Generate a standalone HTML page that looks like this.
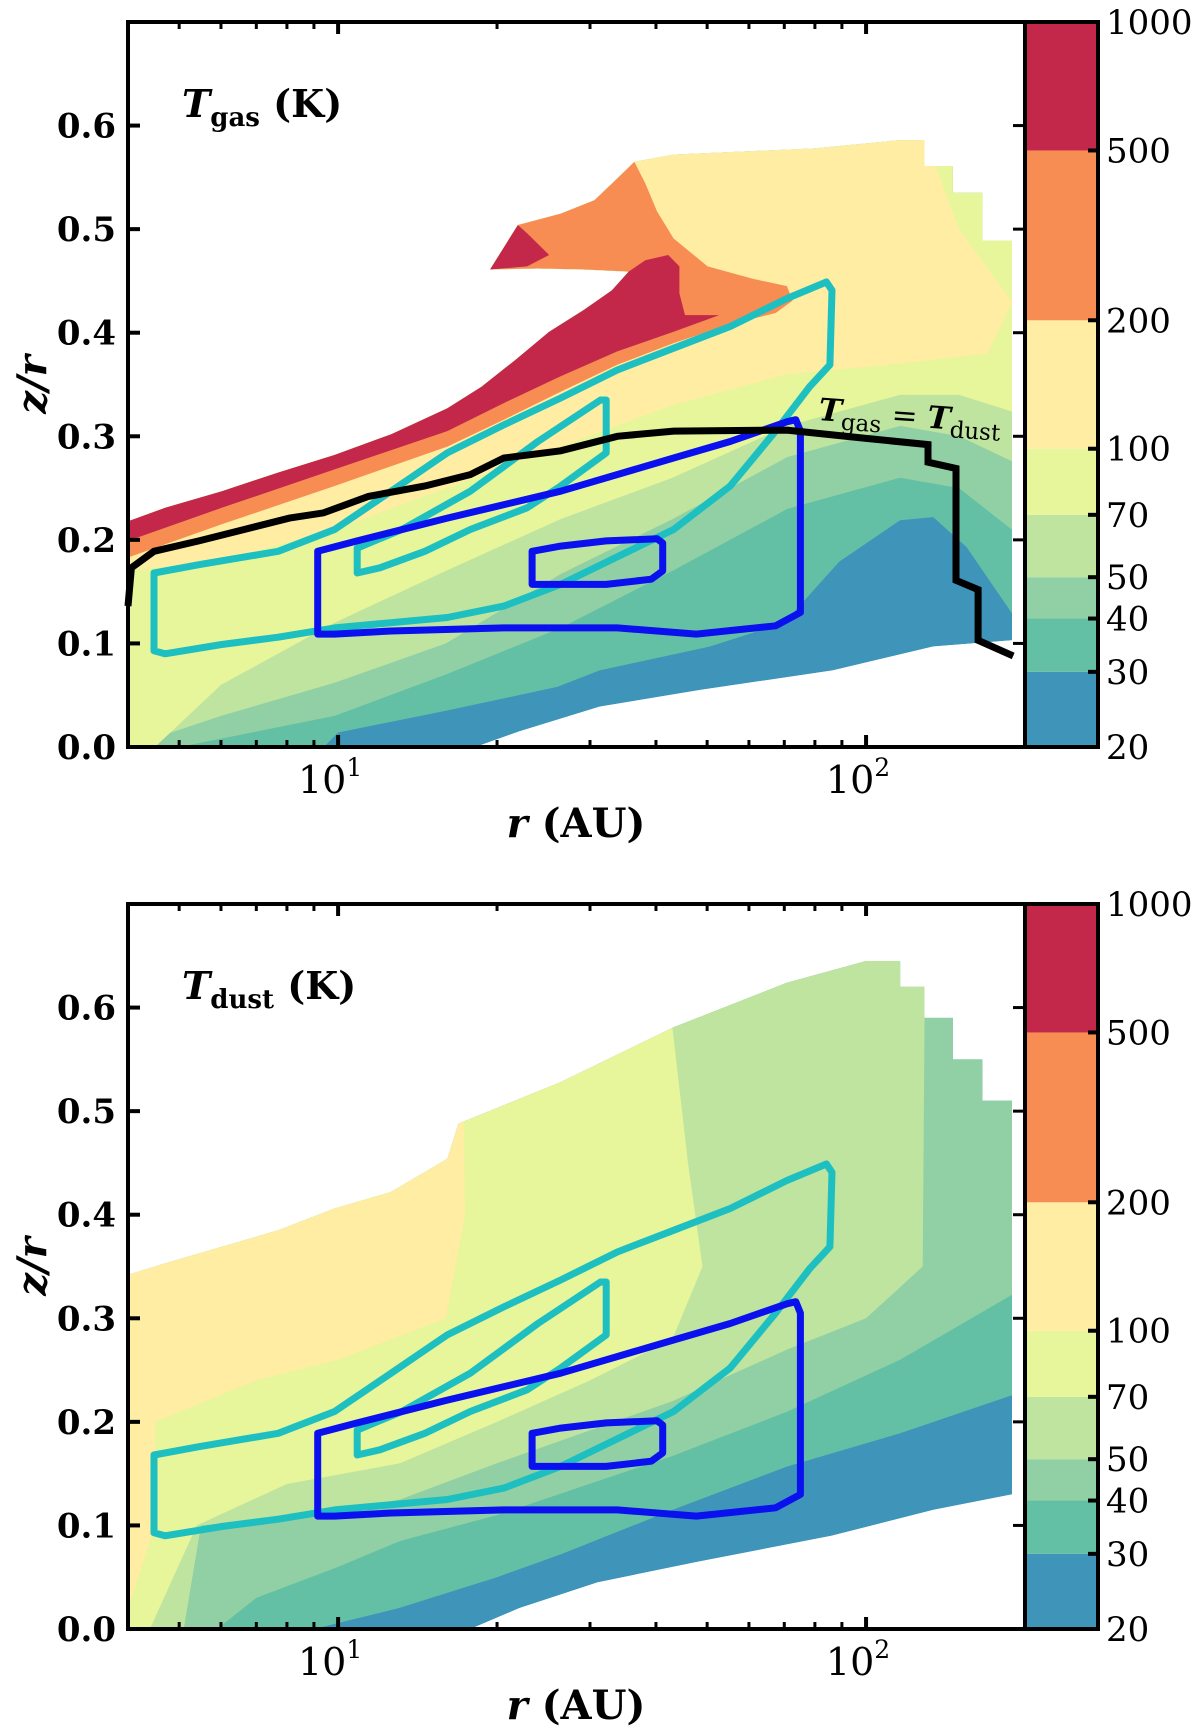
<!DOCTYPE html>
<html><head><meta charset="utf-8"><style>
html,body{margin:0;padding:0;background:#fff;}
svg{display:block;}
text{font-family:"DejaVu Serif","Liberation Serif",serif;fill:#000;}
</style></head>
<body>
<svg id="fig" width="1200" height="1736" viewBox="0 0 1200 1736" xmlns="http://www.w3.org/2000/svg"></svg>
<script>
// ---------- data ----------
const levels = [20,30,40,50,70,100,200,500,1000];
const levelColors = ["#3e94b9","#64c0a5","#90d0a4","#bee4a0","#e7f59b","#feeda2","#f78d52","#c3284a"];
const yTicks = [0.0,0.1,0.2,0.3,0.4,0.5,0.6];
const xMajor = [10,100];
const xMinor = [5,6,7,8,9,20,30,40,50,60,70,80,90];
const cbTicks = [20,30,40,50,70,100,200,500,1000];

// top panel (T_gas)
const gasDomain = [[4,0],[4,0.218],[4.7,0.231],[6.02,0.247],[7.7,0.265],[9.85,0.282],[12.6,0.302],[16.1,0.327],[18.7,0.348],[21.7,0.374],[25.1,0.401],[29.2,0.422],[33,0.441],[35.5,0.459],[29.2,0.461],[23.9,0.462],[19.4,0.461],[21.9,0.504],[26.4,0.515],[30.6,0.528],[33.8,0.549],[36.4,0.565],[43.2,0.572],[80,0.578],[116,0.586],[129,0.586],[129,0.561],[146,0.561],[146,0.535],[166,0.535],[166,0.489],[189,0.489],[189,0.103],[134,0.097],[86.5,0.074],[48.4,0.055],[31.3,0.039],[22,0.015],[18.2,0]];
const gas30 = [[4,0],[9.4,0],[10,0.014],[16,0.035],[26,0.058],[31.3,0.074],[50.6,0.097],[70,0.12],[89,0.179],[116,0.219],[134,0.222],[155,0.193],[189,0.129],[200,0.12],[200,0.8],[4,0.8]];
const gas40 = [[4,0],[5,0],[9.85,0.03],[16,0.07],[26.4,0.115],[43,0.17],[71,0.23],[116,0.26],[150,0.25],[200,0.2],[200,0.8],[4,0.8]];
const gas50 = [[4,0],[6,0.03],[9.85,0.062],[16,0.1],[26.4,0.167],[43,0.22],[71,0.28],[116,0.31],[150,0.3],[200,0.27],[200,0.8],[4,0.8]];
const gas70 = [[4,0],[4.5,0],[6,0.06],[9.85,0.12],[16,0.17],[26.4,0.22],[43,0.26],[71,0.31],[116,0.34],[150,0.34],[200,0.32],[200,0.8],[4,0.8]];
const gas100 = [[4,0.17],[6,0.18],[9.85,0.21],[16,0.25],[26.4,0.29],[43,0.33],[71,0.36],[116,0.37],[170,0.38],[189,0.43],[150,0.5],[129,0.59],[129,0.8],[4,0.8]];
const gas200 = [[4,0.183],[4,0.218],[4.7,0.231],[6.02,0.247],[7.7,0.265],[9.85,0.282],[12.6,0.302],[16.1,0.327],[18.7,0.348],[21.7,0.374],[25.1,0.401],[29.2,0.422],[33,0.441],[35.5,0.459],[29.2,0.461],[23.9,0.462],[19.4,0.461],[21.9,0.504],[26.4,0.515],[30.6,0.528],[33.8,0.549],[36.4,0.565],[38.2,0.544],[40.2,0.517],[43.2,0.491],[50.1,0.464],[61.1,0.452],[70.8,0.445],[72.6,0.431],[67.4,0.419],[55.3,0.408],[43.2,0.39],[33.8,0.369],[26.4,0.343],[20.6,0.316],[16.1,0.29],[9.85,0.252],[6.02,0.215]];
const gas500 = [[4,0.218],[4.7,0.231],[6.02,0.247],[7.7,0.265],[9.85,0.282],[12.6,0.302],[16.1,0.327],[18.7,0.348],[21.7,0.374],[25.1,0.401],[29.2,0.422],[33,0.441],[35.5,0.459],[38.2,0.47],[42.2,0.475],[44.3,0.464],[44.3,0.438],[45.4,0.417],[52.7,0.417],[43.2,0.401],[33.8,0.382],[26.4,0.358],[20.6,0.332],[16.1,0.305],[9.85,0.268],[6.02,0.231],[4,0.199]];
const gas500hook = [[19.4,0.461],[21.9,0.504],[22.8,0.496],[25.1,0.475],[22.8,0.464]];
const eqLine = [[4,0.136],[4.06,0.173],[4.48,0.189],[5.45,0.199],[6.64,0.21],[8.09,0.221],[9.38,0.226],[11.42,0.242],[14.6,0.252],[17.8,0.263],[20.6,0.279],[26.4,0.286],[33.8,0.3],[43.2,0.305],[70.8,0.306],[100,0.298],[131,0.292],[131,0.275],[148,0.269],[148,0.161],[163,0.152],[163,0.103],[190,0.088]];

// bottom panel (T_dust)
const dustDomain = [[4,0],[4,0.342],[4.7,0.353],[6.02,0.369],[7.7,0.385],[9.85,0.406],[12.6,0.422],[16.1,0.454],[16.9,0.488],[26.4,0.528],[43.2,0.581],[70.8,0.624],[100,0.645],[116,0.645],[116,0.62],[129,0.62],[129,0.59],[146,0.59],[146,0.55],[166,0.55],[166,0.51],[189,0.51],[189,0.13],[134,0.115],[86,0.09],[48,0.065],[31,0.045],[22,0.02],[17.8,0]];
const dust30 = [[4,0],[9,0],[13,0.02],[20,0.05],[26.4,0.072],[43,0.115],[71,0.157],[116,0.189],[200,0.23],[200,0.8],[4,0.8]];
const dust40 = [[4,0],[5.9,0],[7,0.03],[10,0.06],[13.1,0.085],[20,0.11],[43,0.167],[71,0.21],[116,0.26],[200,0.33],[200,0.8],[4,0.8]];
const dust50 = [[4,0],[5.1,0],[5.5,0.1],[9,0.11],[13.1,0.125],[20,0.16],[43,0.22],[71,0.27],[100,0.3],[128,0.35],[130,0.8],[4,0.8]];
const dust70 = [[4,0],[4.4,0],[5.4,0.1],[8,0.14],[13.1,0.16],[20,0.2],[30,0.24],[43,0.28],[49,0.35],[46,0.45],[43,0.58],[43,0.8],[4,0.8]];
const dust100 = [[4,0.02],[4.5,0.1],[4.5,0.2],[7,0.24],[10,0.26],[16,0.3],[17.4,0.4],[17,0.8],[4,0.8]];

// shared contours
const cyanOuter = [[4.48,0.093],[4.48,0.168],[5.45,0.176],[7.7,0.189],[9.85,0.21],[12.6,0.247],[16.1,0.284],[20.6,0.311],[26.4,0.337],[33.8,0.364],[43.2,0.385],[55.3,0.406],[70.8,0.433],[84.1,0.449],[86.2,0.441],[85.4,0.369],[78.2,0.348],[67.4,0.305],[55.3,0.252],[43.2,0.21],[35.5,0.189],[26.4,0.157],[20.6,0.136],[16.1,0.125],[9.85,0.115],[7.7,0.106],[6.02,0.099],[4.7,0.09]];
const cyanInner = [[10.87,0.168],[10.87,0.192],[13.2,0.21],[17.8,0.247],[23.9,0.295],[31.4,0.335],[32.2,0.335],[32.2,0.284],[26.4,0.252],[22.8,0.231],[17.8,0.21],[14.6,0.189],[12,0.173]];
const blueOuter = [[9.15,0.109],[9.15,0.189],[10.87,0.199],[16.1,0.221],[26.4,0.247],[43.2,0.279],[55.3,0.295],[70.8,0.314],[73.6,0.316],[75.1,0.305],[75.1,0.13],[67.4,0.117],[47.7,0.109],[33.8,0.115],[20.6,0.115],[12.6,0.112],[9.85,0.109]];
const blueInner = [[23.3,0.157],[23.3,0.189],[26.4,0.194],[32.2,0.199],[40.2,0.201],[41.2,0.197],[41.2,0.17],[39.2,0.162],[32.2,0.157],[26.4,0.157]];

// ---------- layout ----------
const NS = "http://www.w3.org/2000/svg";
const svg = document.getElementById("fig");
const PL = 128, PR = 1025, CB0 = 1025, CB1 = 1098;
const panels = [{top:22,bottom:747,id:"gas"},{top:904,bottom:1629,id:"dust"}];
const LRMIN = Math.log10(4), LRMAX = Math.log10(200);
function X(r){ return PL + (Math.log10(r)-LRMIN)/(LRMAX-LRMIN)*(PR-PL); }
function Yf(p){ return z => p.bottom - z/0.7*(p.bottom-p.top); }
function CBY(p){ return t => p.bottom - Math.log10(t/20)/Math.log10(50)*(p.bottom-p.top); }

function el(tag, attrs, parent){
  const e = document.createElementNS(NS, tag);
  for (const k in attrs) e.setAttribute(k, attrs[k]);
  (parent||svg).appendChild(e);
  return e;
}
function ptsStr(arr, Y){ return arr.map(d => X(d[0]).toFixed(1)+","+Y(d[1]).toFixed(1)).join(" "); }

function drawPanel(p, idx){
  const Y = Yf(p);
  const g = el("g", {});
  
  
  const clipId = "clip-"+p.id;
  const defs = el("defs", {}, g);
  const cp = el("clipPath", {id:clipId}, defs);
  const dom = p.id==="gas" ? gasDomain : dustDomain;
  el("polygon", {points: ptsStr(dom, Y)}, cp);
  const field = el("g", {"clip-path":"url(#"+clipId+")"}, g);
  
  
  const base = el("polygon", {points: ptsStr(dom, Y), fill: levelColors[0]}, field);
  
  
  const bands = p.id==="gas"
    ? [[gas30,1],[gas40,2],[gas50,3],[gas70,4],[gas100,5],[gas200,6],[gas500,7],[gas500hook,7]]
    : [[dust30,1],[dust40,2],[dust50,3],[dust70,4],[dust100,5]];
  bands.forEach(b => {
    const poly = el("polygon", {points: ptsStr(b[0], Y), fill: levelColors[b[1]]}, field);
    
    
  });
  const lines = [[cyanOuter,"#1ebfc0","cyan-outer-contour"],[cyanInner,"#1ebfc0","cyan-inner-contour"],[blueOuter,"#0a10ee","blue-outer-contour"],[blueInner,"#0a10ee","blue-inner-contour"]];
  lines.forEach(l => {
    const pg = el("polygon", {points: ptsStr(l[0], Y), fill:"none", stroke:l[1], "stroke-width":7, "stroke-linejoin":"round"}, g);
    
    
  });
  if (p.id==="gas"){
    const bl = el("polyline", {points: ptsStr(eqLine, Y), fill:"none", stroke:"#000", "stroke-width":7, "stroke-linejoin":"miter"}, g);
    
    
    const lab = el("text", {x:818, y:420, "font-size":31, transform:"rotate(4 818 420)"}, g);
    
    
    lab.innerHTML = '<tspan font-style="italic" font-weight="bold">T</tspan><tspan font-size="23" dy="8">gas</tspan><tspan dy="-8"> = </tspan><tspan font-style="italic" font-weight="bold">T</tspan><tspan font-size="23" dy="8">dust</tspan>';
  }
  const fr = el("rect", {x:PL, y:p.top, width:PR-PL, height:p.bottom-p.top, fill:"none", stroke:"#000", "stroke-width":4}, g);
  
  
  yTicks.forEach(t => {
    const y = Y(t);
    el("line", {x1:PL, x2:PL+12, y1:y, y2:y, stroke:"#000", "stroke-width":4}, g);
    el("line", {x1:PR-12, x2:PR, y1:y, y2:y, stroke:"#000", "stroke-width":3}, g);
    const tx = el("text", {x:PL-12, y:y+12, "font-size":34, "font-weight":"bold", "text-anchor":"end"}, g);
    
    
    tx.textContent = t.toFixed(1);
  });
  xMajor.forEach((r,i) => {
    const x = X(r);
    el("line", {x1:x, x2:x, y1:p.bottom, y2:p.bottom-12, stroke:"#000", "stroke-width":4}, g);
    el("line", {x1:x, x2:x, y1:p.top, y2:p.top+12, stroke:"#000", "stroke-width":4}, g);
    const tx = el("text", {x:x-8, y:p.bottom+46, "font-size":38, "text-anchor":"middle"}, g);
    
    
    tx.innerHTML = '10<tspan font-size="25" dy="-17">'+(i+1)+'</tspan>';
  });
  xMinor.forEach(r => {
    const x = X(r);
    el("line", {x1:x, x2:x, y1:p.bottom, y2:p.bottom-7, stroke:"#000", "stroke-width":3}, g);
    el("line", {x1:x, x2:x, y1:p.top, y2:p.top+7, stroke:"#000", "stroke-width":3}, g);
  });
  const tt = el("text", {x:182, y:p.top+95, "font-size":38}, g);
  
  
  tt.innerHTML = '<tspan font-style="italic" font-weight="bold">T</tspan><tspan font-size="26" dy="9" font-weight="bold">'+p.id+'</tspan><tspan dy="-9" font-weight="bold"> (K)</tspan>';
  const xl = el("text", {x:576, y:p.bottom+90, "font-size":40, "text-anchor":"middle", "font-weight":"bold"}, g);
  
  
  xl.innerHTML = '<tspan font-style="italic">r</tspan> (AU)';
  const cy = (p.top+p.bottom)/2;
  const yl = el("text", {x:46, y:cy, "font-size":40, "text-anchor":"middle", "font-weight":"bold", "font-style":"italic", transform:"rotate(-90 46 "+cy+")"}, g);
  
  
  yl.textContent = "z/r";
  const CY = CBY(p);
  const cb = el("g", {}, g);
  
  
  for (let i=0;i<levelColors.length;i++){
    const y0 = i===levelColors.length-1 ? p.top : CY(levels[i+1]);
    const r = el("rect", {x:CB0, y:y0, width:CB1-CB0, height:CY(levels[i])-y0, fill:levelColors[i]}, cb);
    
    
  }
  el("rect", {x:CB0, y:p.top, width:CB1-CB0, height:p.bottom-p.top, fill:"none", stroke:"#000", "stroke-width":4}, cb);
  cbTicks.forEach(t => {
    const y = CY(t);
    if (t>20 && t<1000) el("line", {x1:CB1-10, x2:CB1, y1:y, y2:y, stroke:"#000", "stroke-width":4}, cb);
    const ty = Math.max(y, p.top-4);
    const tx = el("text", {x:CB1+8, y:ty+12, "font-size":34}, cb);
    
    
    tx.textContent = t;
  });
}
panels.forEach(drawPanel);
</script>
</body></html>
